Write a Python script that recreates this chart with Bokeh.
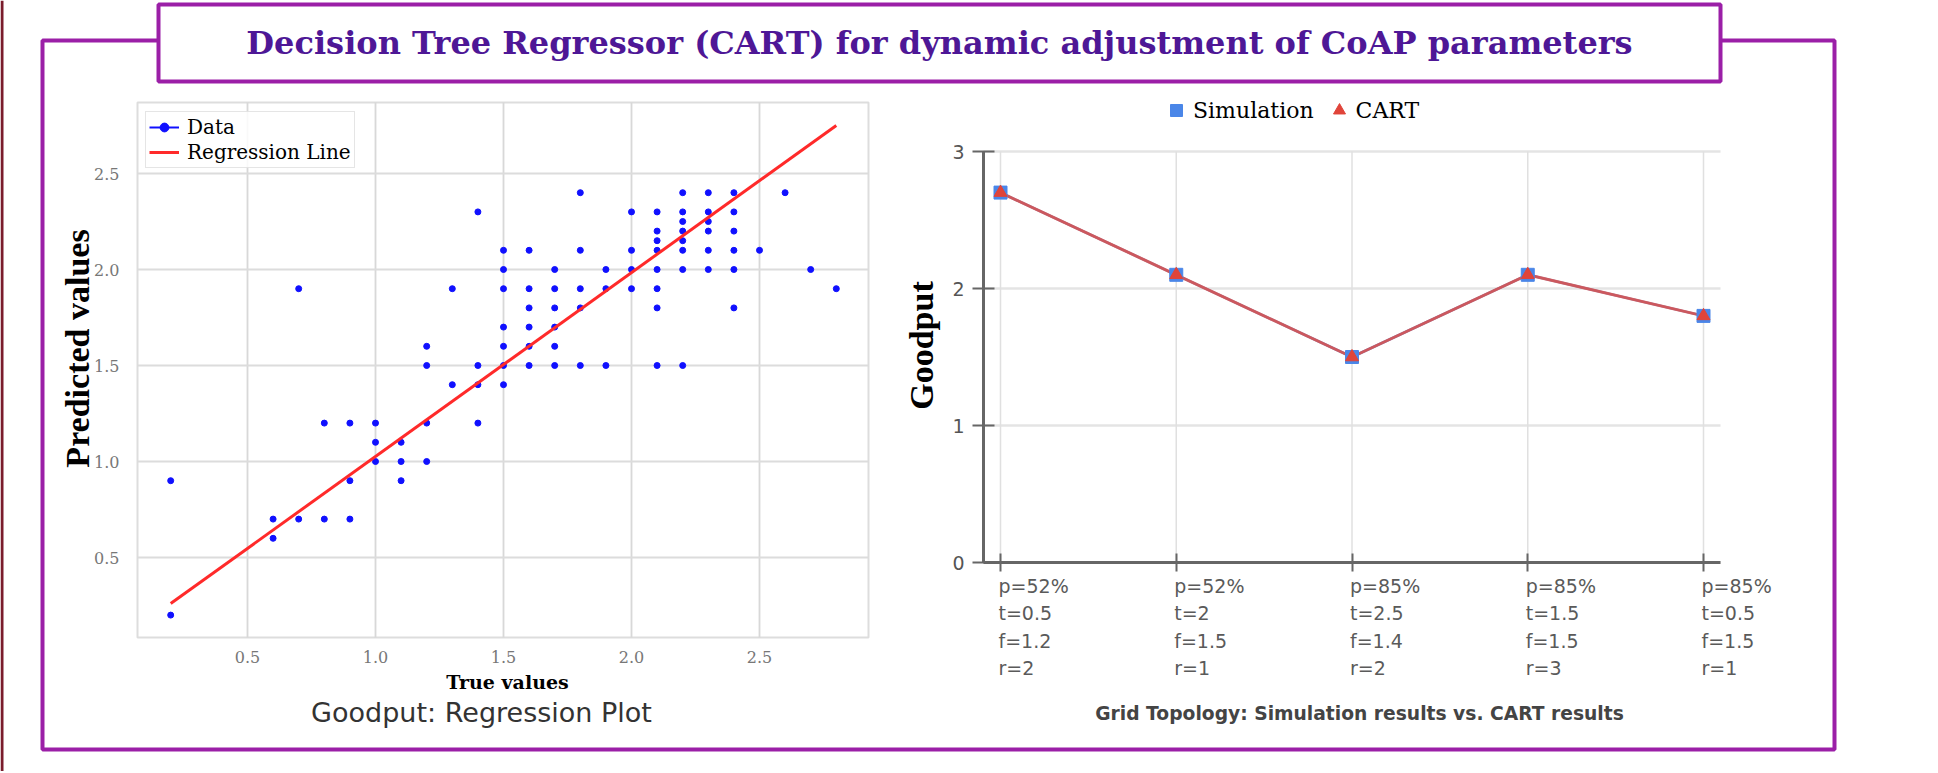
import math
from bokeh.plotting import figure
from bokeh.models import (Range1d, FixedTicker, PrintfTickFormatter, Legend, LegendItem,
                          LinearAxis, ColumnDataSource)
from bokeh.core.properties import value
from bokeh.embed import file_html
from bokeh.resources import INLINE

# ---------------- texts ----------------
TITLE = "Decision Tree Regressor (CART) for dynamic adjustment of CoAP parameters"
LEFT_CAPTION = "Goodput: Regression Plot"
RIGHT_CAPTION = "Grid Topology: Simulation results vs. CART results"

# ---------------- left panel data (true vs predicted goodput) ----------------
true_values = [
    0.2, 0.2,
    0.6, 0.6, 0.7, 0.8, 0.9,
    0.7,
    0.8, 0.9, 1.0,
    0.9, 1.0, 1.0, 1.1, 1.1, 1.1,
    1.2, 1.2, 1.2, 1.2,
    1.3, 1.3,
    1.4, 1.4, 1.4, 1.4,
    1.5, 1.5, 1.5, 1.5, 1.5, 1.5, 1.5,
    1.6, 1.6, 1.6, 1.6, 1.6, 1.6,
    1.7, 1.7, 1.7, 1.7, 1.7, 1.7,
    1.8, 1.8, 1.8, 1.8, 1.8,
    1.9, 1.9, 1.9,
    2.0, 2.0, 2.0, 2.0,
    2.1, 2.1, 2.1, 2.1, 2.1, 2.1, 2.1, 2.1,
    2.2, 2.2, 2.2, 2.2, 2.2, 2.2, 2.2, 2.2,
    2.3, 2.3, 2.3, 2.3, 2.3, 2.3,
    2.4, 2.4, 2.4, 2.4, 2.4, 2.4,
    2.5, 2.6, 2.7, 2.8]
predicted_values = [
    0.2, 0.9,
    0.6, 0.7, 0.7, 0.7, 0.7,
    1.9,
    1.2, 1.2, 1.2,
    0.9, 1.0, 1.1, 0.9, 1.0, 1.1,
    1.0, 1.2, 1.5, 1.6,
    1.4, 1.9,
    1.2, 1.4, 1.5, 2.3,
    1.4, 1.5, 1.6, 1.7, 1.9, 2.0, 2.1,
    1.5, 1.6, 1.7, 1.8, 1.9, 2.1,
    1.5, 1.6, 1.7, 1.8, 1.9, 2.0,
    1.5, 1.8, 1.9, 2.1, 2.4,
    1.5, 1.9, 2.0,
    1.9, 2.0, 2.1, 2.3,
    1.5, 1.8, 1.9, 2.0, 2.1, 2.15, 2.2, 2.3,
    1.5, 2.0, 2.1, 2.15, 2.2, 2.25, 2.3, 2.4,
    2.0, 2.1, 2.2, 2.25, 2.3, 2.4,
    1.8, 2.0, 2.1, 2.2, 2.3, 2.4,
    2.1, 2.4, 2.0, 1.9]
regression_x = [0.2, 2.8]
regression_y = [0.26, 2.75]
left_ticks = [0.5, 1.0, 1.5, 2.0, 2.5]

# ---------------- right panel data ----------------
configurations = [
    "p=52%\nt=0.5\nf=1.2\nr=2",
    "p=52%\nt=2\nf=1.5\nr=1",
    "p=85%\nt=2.5\nf=1.4\nr=2",
    "p=85%\nt=1.5\nf=1.5\nr=3",
    "p=85%\nt=0.5\nf=1.5\nr=1",
]
simulation = [2.7, 2.1, 1.5, 2.1, 1.8]
cart = [2.7, 2.1, 1.5, 2.1, 1.8]
goodput_ticks = [0, 1, 2, 3]

# ---------------- layout constants (page pixels) ----------------
W, H = 1936, 771
PURPLE = "#9b1fa7"
TITLE_COLOR = "#4e1796"
FR_L, FR_R, FR_T, FR_B = 42, 1834, 40, 749          # outer frame
TB_L, TB_R, TB_T, TB_B = 158, 1720, 4, 81           # title box
PA_L, PA_R, PA_T, PA_B = 137, 868, 102, 637         # left plot area
RA_L, RA_R = 983, 1720                              # right axis extent


def lin(p0, p1, v0, v1):
    k = (v1 - v0) / (p1 - p0)
    return lambda px: v0 + (px - p0) * k


lx = lin(247, 759, 0.5, 2.5)      # left chart x scale anchors
ly = lin(557, 173, 0.5, 2.5)      # left chart y
rx = lin(1000, 1703, 0, 4)        # right chart x
ry = lin(562, 151, 0, 3)          # right chart y

p = figure(width=W, height=H, x_range=Range1d(lx(0), lx(W)), y_range=Range1d(ly(H), ly(0)),
           x_axis_location=None, y_axis_location=None, toolbar_location=None,
           output_backend="svg", min_border=0)
p.extra_x_ranges = {"rx": Range1d(rx(0), rx(W)), "px": Range1d(0, W)}
p.extra_y_ranges = {"ry": Range1d(ry(H), ry(0)), "py": Range1d(H, 0)}
p.outline_line_color = None
p.grid.visible = False
PX = dict(x_range_name="px", y_range_name="py")
R = dict(x_range_name="rx", y_range_name="ry")

# ---- page decorations
p.quad(left=[0], right=[3], top=[0], bottom=[H], fill_color="#7a1c2c", line_color=None, **PX)
p.quad(left=[FR_L], right=[FR_R], top=[FR_T], bottom=[FR_B], fill_color=None,
       line_color=PURPLE, line_width=4, **PX)
p.quad(left=[TB_L], right=[TB_R], top=[TB_T], bottom=[TB_B], fill_color="white",
       line_color=PURPLE, line_width=4, **PX)
p.text(x=[(TB_L + TB_R) / 2], y=[42], text=[TITLE],
       text_align="center", text_baseline="middle", text_font=value("DejaVu Serif"),
       text_font_style="bold", text_font_size="32px", text_color=TITLE_COLOR, **PX)

# ---------------- left chart ----------------
p.quad(left=[PA_L], right=[PA_R], top=[PA_T], bottom=[PA_B], fill_color="white",
       line_color="#dddddd", line_width=2, **PX)
p.segment(x0=left_ticks, x1=left_ticks, y0=[ly(PA_B)] * len(left_ticks),
          y1=[ly(PA_T)] * len(left_ticks), line_color="#d8d8d8", line_width=1.8)
p.segment(x0=[lx(PA_L)] * len(left_ticks), x1=[lx(PA_R)] * len(left_ticks),
          y0=left_ticks, y1=left_ticks, line_color="#dcdcdc", line_width=1.8)

lyax = LinearAxis(fixed_location=lx(PA_L), ticker=FixedTicker(ticks=left_ticks),
                  formatter=PrintfTickFormatter(format="%.1f"))
lxax = LinearAxis(fixed_location=ly(PA_B), ticker=FixedTicker(ticks=left_ticks),
                  formatter=PrintfTickFormatter(format="%.1f"))
for ax in (lyax, lxax):
    ax.axis_line_color = None
    ax.major_tick_line_color = None
    ax.minor_tick_line_color = None
    ax.major_tick_in = 0
    ax.major_tick_out = 0
    ax.major_label_text_font = "DejaVu Serif"
    ax.major_label_text_font_size = "16px"
    ax.major_label_text_color = "#777777"
lyax.major_label_standoff = 18
lxax.major_label_standoff = 13
p.add_layout(lyax, "left")
p.add_layout(lxax, "below")

data_src = ColumnDataSource(dict(x=true_values, y=predicted_values))
dots = p.scatter("x", "y", source=data_src, size=6, color="#1010ff")
dummy = p.line(x=[float("nan")] * 2, y=[float("nan")] * 2, color="#1010ff", line_width=2)
reg = p.line(regression_x, regression_y, color="#ff2a2a", line_width=3)

p.text(x=[77], y=[348], text=["Predicted values"], angle=math.pi / 2, text_align="center",
       text_baseline="middle", text_font=value("Liberation Serif"), text_font_style="bold",
       text_font_size="34px", text_color="black", **PX)
p.text(x=[507], y=[681], text=["True values"], text_align="center", text_baseline="middle",
       text_font=value("DejaVu Serif"), text_font_style="bold", text_font_size="19px",
       text_color="black", **PX)
p.text(x=[481], y=[712], text=[LEFT_CAPTION], text_align="center", text_baseline="middle",
       text_font=value("DejaVu Sans"), text_font_size="27px", text_color="#333333", **PX)

leg_l = Legend(items=[LegendItem(label="Data", renderers=[dummy, dots]),
                      LegendItem(label="Regression Line", renderers=[reg])],
               location=(145, H - 168), margin=0, padding=3, spacing=1,
               glyph_width=30, glyph_height=22, label_height=22, label_standoff=8,
               label_text_font="DejaVu Serif", label_text_font_size="20px",
               label_text_color="black", border_line_color="#cccccc", border_line_width=1.5,
               background_fill_alpha=0.85)
p.add_layout(leg_l, "center")

# ---------------- right chart ----------------
idx = list(range(len(simulation)))
p.segment(x0=[rx(RA_L)] * len(goodput_ticks), x1=[rx(RA_R)] * len(goodput_ticks),
          y0=goodput_ticks, y1=goodput_ticks, line_color="#e4e4e4", line_width=2.5, **R)
p.segment(x0=idx, x1=idx, y0=[0] * len(idx), y1=[goodput_ticks[-1]] * len(idx),
          line_color="#e0e0e0", line_width=1.5, **R)

ryax = LinearAxis(fixed_location=rx(RA_L), bounds=(0, goodput_ticks[-1]),
                  ticker=FixedTicker(ticks=goodput_ticks), **R)
rxax = LinearAxis(fixed_location=0, bounds=(rx(RA_L), rx(RA_R)),
                  ticker=FixedTicker(ticks=[], minor_ticks=idx), **R)
for ax in (ryax, rxax):
    ax.axis_line_color = "#666666"
    ax.axis_line_width = 3
    ax.major_tick_line_color = "#666666"
    ax.major_tick_line_width = 2
    ax.minor_tick_line_color = "#666666"
    ax.minor_tick_line_width = 2
ryax.minor_tick_line_color = None
ryax.major_tick_in = 11
ryax.major_tick_out = 11
ryax.major_label_standoff = 8
ryax.major_label_text_font = "DejaVu Sans"
ryax.major_label_text_font_size = "19px"
ryax.major_label_text_color = "#555555"
rxax.minor_tick_in = 9
rxax.minor_tick_out = 9
p.add_layout(ryax, "left")
p.add_layout(rxax, "below")

p.line(idx, simulation, color="#4a86e8", line_width=2.5, **R)
p.line(idx, cart, color="#d9534f", line_width=3, alpha=0.9, **R)
sim_r = p.scatter(idx, simulation, marker="square", size=13, color="#4a86e8", **R)
cart_r = p.scatter(idx, cart, marker="triangle", size=13, color="#e0443a", **R)

lab_src = ColumnDataSource(dict(x=idx, y=[ry(574)] * len(idx), text=configurations))
p.text(x="x", y="y", text="text", source=lab_src, text_align="left", text_baseline="top",
       text_font=value("DejaVu Sans"), text_font_size="19px", text_color="#5a5a5a",
       text_line_height=1.25, x_offset=-2, **R)

p.text(x=[921], y=[345], text=["Goodput"], angle=math.pi / 2, text_align="center",
       text_baseline="middle", text_font=value("Liberation Serif"), text_font_style="bold",
       text_font_size="34px", text_color="black", **PX)
p.text(x=[1359], y=[713], text=[RIGHT_CAPTION], text_align="center", text_baseline="middle",
       text_font=value("DejaVu Sans"), text_font_style="bold", text_font_size="18.7px",
       text_color="#444444", **PX)

leg_r = Legend(items=[LegendItem(label="Simulation", renderers=[sim_r]),
                      LegendItem(label="CART", renderers=[cart_r])],
               orientation="horizontal", location=(1161, H - 125), margin=0, padding=0,
               spacing=10, glyph_width=30, glyph_height=30, label_height=30,
               label_standoff=2, label_text_font="DejaVu Serif", label_text_font_size="22px",
               label_text_color="black", border_line_color=None, background_fill_alpha=0)
p.add_layout(leg_r, "center")

open("out.html", "w").write(file_html(p, INLINE))
